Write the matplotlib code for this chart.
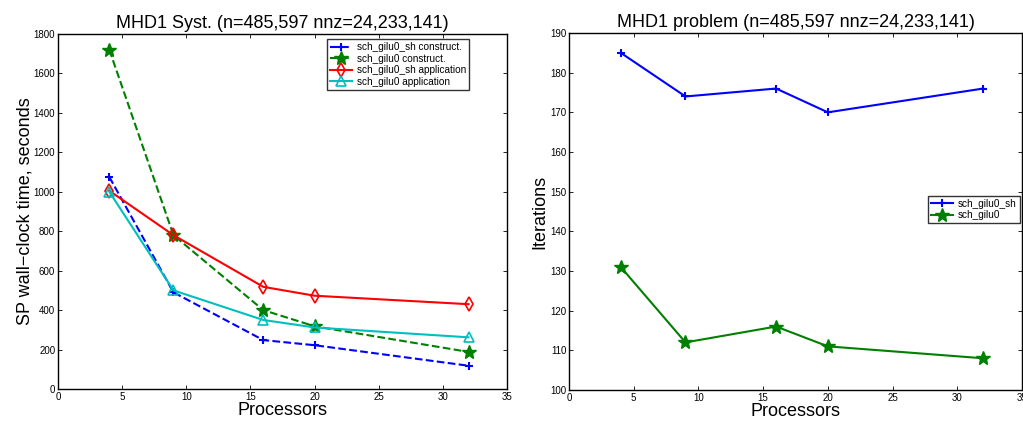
import matplotlib
matplotlib.use("Agg")
import matplotlib.pyplot as plt

plt.rcParams['font.family'] = ['Liberation Sans', 'DejaVu Sans']

procs = [4, 9, 16, 20, 32]
sh_construct = [1075, 490, 248, 222, 118]
gilu0_construct = [1720, 780, 400, 318, 188]
sh_application = [1005, 780, 518, 473, 430]
gilu0_application = [1000, 500, 350, 312, 262]

iter_sh = [185, 174, 176, 170, 176]
iter_gilu0 = [131, 112, 116, 111, 108]

left_labels = ['sch_gilu0_sh construct.', 'sch_gilu0 construct.',
               'sch_gilu0_sh application', 'sch_gilu0 application']
right_labels = ['sch_gilu0_sh', 'sch_gilu0']

W, H = 1023, 424
fig = plt.figure(figsize=(W/100, H/100), dpi=100)

def style(ax):
    ax.tick_params(direction='in', top=True, right=True, labelsize=7, length=3, width=0.6, pad=2)
    for s in ax.spines.values():
        s.set_linewidth(1.0)

ax1 = fig.add_axes([58/W, 1-389/H, (507-58)/W, (389-34)/H])
ax1.plot(procs, sh_construct, '--', color='blue', marker='+', ms=6, mew=1.5, lw=1.5, label=left_labels[0])
ax1.plot(procs, gilu0_construct, '--', color='green', marker='*', ms=10, lw=1.5, label=left_labels[1])
ax1.plot(procs, sh_application, '-', color='red', marker='d', ms=7, mfc='none', mew=1.2, lw=1.5, label=left_labels[2])
ax1.plot(procs, gilu0_application, '-', color='c', marker='^', ms=7, mfc='none', mew=1.2, lw=1.5, label=left_labels[3])
ax1.set_xlim(0, 35)
ax1.set_ylim(0, 1800)
ax1.set_xticks(range(0, 36, 5))
ax1.set_yticks(range(0, 1801, 200))
style(ax1)
ax1.set_title('MHD1 Syst. (n=485,597 nnz=24,233,141)', fontsize=13, pad=4)
ax1.set_xlabel('Processors', fontsize=13, labelpad=0)
ax1.set_ylabel('SP wall\u2212clock time, seconds', fontsize=13, labelpad=0)
leg1 = ax1.legend(loc='upper right', bbox_to_anchor=(0.915, 0.985), fontsize=7.2, frameon=True,
                  fancybox=False, edgecolor='black', handlelength=2.2, borderpad=0.3,
                  labelspacing=0.15, handletextpad=0.5, borderaxespad=0)
leg1.get_frame().set_linewidth(1.0)

ax2 = fig.add_axes([569/W, 1-390/H, (1022-569)/W, (390-33)/H])
ax2.plot(procs, iter_sh, '-', color='blue', marker='+', ms=6, mew=1.5, lw=1.5, label=right_labels[0])
ax2.plot(procs, iter_gilu0, '-', color='green', marker='*', ms=10, lw=1.5, label=right_labels[1])
ax2.set_xlim(0, 35)
ax2.set_ylim(100, 190)
ax2.set_xticks(range(0, 36, 5))
ax2.set_yticks(range(100, 191, 10))
style(ax2)
ax2.set_title('MHD1 problem (n=485,597 nnz=24,233,141)', fontsize=13, pad=4)
ax2.set_xlabel('Processors', fontsize=13, labelpad=0)
ax2.set_ylabel('Iterations', fontsize=13, labelpad=1)
leg2 = ax2.legend(loc='center right', bbox_to_anchor=(0.995, 0.505), fontsize=7.2, frameon=True,
                  fancybox=False, edgecolor='black', handlelength=2.2, borderpad=0.3,
                  labelspacing=0.15, handletextpad=0.5, borderaxespad=0)
leg2.get_frame().set_linewidth(1.0)

fig.savefig('out.png', dpi=100)
